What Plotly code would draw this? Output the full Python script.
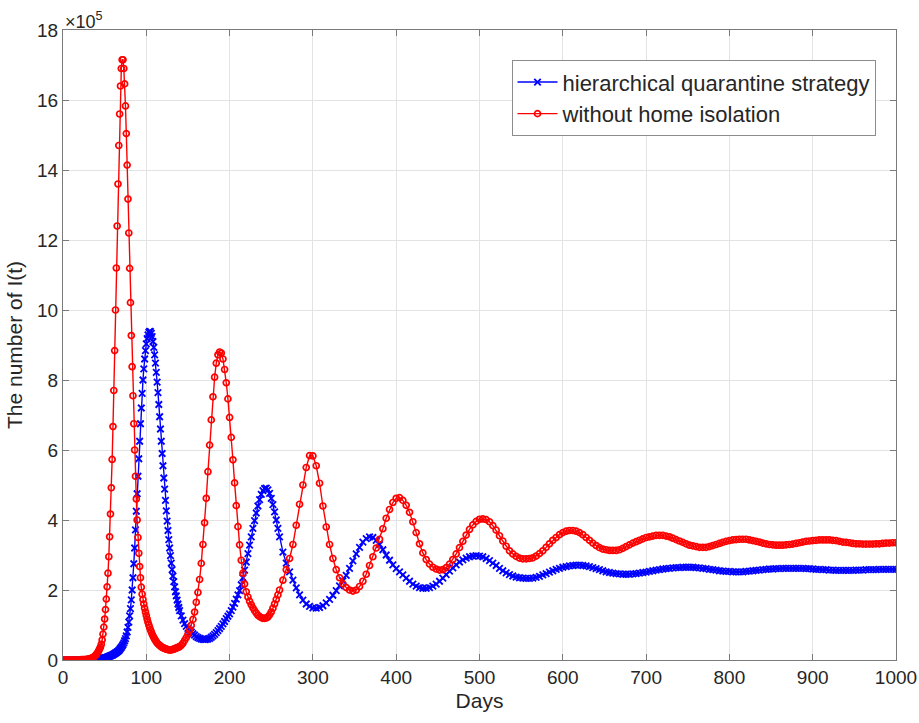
import plotly.graph_objects as go

# x grid (days) for both series: dense where the curves change fast
days = (list(range(0, 31, 2)) + list(range(31, 141)) +
        list(range(142, 261, 2)) + list(range(264, 1001, 4)))

# values in units of 1e5
red_a = [0, 0, 0, 0, 0, 0, 0, 0, 0, 0, 0, 0.01, 0.01, 0.01, 0.02, 0.02]
red_b = [0.03, 0.03, 0.04, 0.05, 0.06, 0.07, 0.09, 0.11, 0.13, 0.16,
         0.19, 0.23, 0.27, 0.32, 0.37, 0.45, 0.57, 0.74, 0.94, 1.17,
         1.44, 1.74, 2.09, 2.48, 2.95, 3.52, 4.17, 4.92, 5.73, 6.67,
         7.7, 8.84, 10.0, 11.2, 12.4, 13.6, 14.7, 15.6, 16.4, 16.9,
         17.15, 17.15, 16.9, 16.46, 15.83, 15.04, 14.14, 13.17, 12.2, 11.19,
         10.21, 9.27, 8.38, 7.55, 6.75, 6.0, 5.25, 4.6, 4.0, 3.5,
         3.05, 2.67, 2.35, 2.08, 1.88, 1.73, 1.6, 1.48, 1.37, 1.27,
         1.17, 1.08, 1.0, 0.93, 0.86, 0.8, 0.74, 0.69, 0.64, 0.6,
         0.56, 0.52, 0.49, 0.46, 0.44, 0.42, 0.4, 0.38, 0.36, 0.35,
         0.34, 0.33, 0.32, 0.31, 0.3, 0.3, 0.29, 0.29, 0.29, 0.29,
         0.3, 0.3, 0.31, 0.32, 0.33, 0.34, 0.35, 0.36, 0.37, 0.38]
red_c = [0.42, 0.48, 0.56, 0.64, 0.74, 0.85, 0.99, 1.16, 1.37, 1.65,
         1.93, 2.3, 2.76, 3.3, 3.92, 4.62, 5.38, 6.14, 6.86, 7.52,
         8.08, 8.48, 8.72, 8.8, 8.77, 8.6, 8.3, 7.92, 7.46, 6.93,
         6.36, 5.72, 5.06, 4.41, 3.81, 3.29, 2.85, 2.48, 2.17, 1.95,
         1.8, 1.68, 1.58, 1.49, 1.41, 1.34, 1.28, 1.24, 1.21, 1.19,
         1.19, 1.2, 1.23, 1.29, 1.37, 1.48, 1.6, 1.73, 1.86, 2.0]
red_d = [2.28, 2.58, 2.9, 3.3, 3.85, 4.45, 5.0, 5.5, 5.84, 5.83,
         5.55, 5.05, 4.4, 3.8, 3.3, 2.9, 2.58, 2.35, 2.18, 2.07,
         2.0, 1.97, 2.0, 2.1, 2.25, 2.45, 2.7, 2.95, 3.2, 3.45,
         3.75, 4.05, 4.3, 4.5, 4.62, 4.64, 4.56, 4.42, 4.22, 3.95,
         3.64, 3.32, 3.06, 2.87, 2.74, 2.65, 2.6, 2.57, 2.58, 2.64,
         2.74, 2.87, 3.03, 3.21, 3.39, 3.57, 3.73, 3.86, 3.96, 4.02,
         4.03, 4.01, 3.95, 3.84, 3.71, 3.55, 3.4, 3.25, 3.12, 3.03,
         2.96, 2.91, 2.89, 2.89, 2.9, 2.92, 2.97, 3.04, 3.12, 3.22,
         3.32, 3.42, 3.5, 3.58, 3.64, 3.68, 3.7, 3.7, 3.68, 3.64,
         3.58, 3.5, 3.42, 3.34, 3.27, 3.21, 3.17, 3.15, 3.13, 3.13,
         3.13, 3.15, 3.19, 3.24, 3.29, 3.34, 3.38, 3.42, 3.46, 3.5,
         3.52, 3.54, 3.56, 3.56, 3.56, 3.54, 3.52, 3.48, 3.44, 3.4,
         3.36, 3.32, 3.28, 3.26, 3.24, 3.22, 3.22, 3.22, 3.24, 3.27,
         3.3, 3.33, 3.36, 3.39, 3.41, 3.43, 3.44, 3.45, 3.45, 3.45,
         3.43, 3.41, 3.39, 3.37, 3.34, 3.32, 3.3, 3.29, 3.28, 3.28,
         3.28, 3.29, 3.3, 3.31, 3.33, 3.35, 3.37, 3.39, 3.4, 3.41,
         3.42, 3.43, 3.43, 3.43, 3.43, 3.42, 3.41, 3.39, 3.37, 3.36,
         3.35, 3.33, 3.32, 3.32, 3.31, 3.31, 3.31, 3.31, 3.32, 3.32,
         3.33, 3.34, 3.34, 3.35, 3.35]

blue_a = [0, 0, 0, 0, 0, 0, 0, 0, 0, 0, 0, 0, 0, 0, 0.01, 0.01]
blue_b = [0.01, 0.01, 0.01, 0.01, 0.01, 0.02, 0.02, 0.02, 0.02, 0.02,
          0.02, 0.03, 0.03, 0.03, 0.04, 0.04, 0.05, 0.05, 0.06, 0.06,
          0.07, 0.07, 0.08, 0.09, 0.1, 0.11, 0.12, 0.13, 0.14, 0.15,
          0.17, 0.18, 0.2, 0.21, 0.23, 0.25, 0.27, 0.3, 0.33, 0.36,
          0.4, 0.44, 0.49, 0.55, 0.61, 0.69, 0.8, 0.93, 1.08, 1.26,
          1.47, 1.72, 2.0, 2.35, 2.75, 3.2, 3.72, 4.25, 4.75, 5.25,
          5.75, 6.25, 6.75, 7.2, 7.62, 8.0, 8.32, 8.6, 8.84, 9.03,
          9.18, 9.29, 9.36, 9.39, 9.38, 9.33, 9.24, 9.1, 8.93, 8.72,
          8.48, 8.22, 7.94, 7.64, 7.3, 6.95, 6.6, 6.25, 5.9, 5.55,
          5.2, 4.88, 4.56, 4.26, 3.97, 3.7, 3.44, 3.2, 2.98, 2.77,
          2.58, 2.4, 2.24, 2.09, 1.95, 1.83, 1.71, 1.6, 1.5, 1.41]
blue_c = [1.26, 1.14, 1.04, 0.96, 0.9, 0.85, 0.8, 0.75, 0.71, 0.67,
          0.64, 0.62, 0.6, 0.59, 0.58, 0.59, 0.6, 0.62, 0.65, 0.69,
          0.73, 0.78, 0.84, 0.9, 0.96, 1.03, 1.1, 1.18, 1.25, 1.32,
          1.41, 1.51, 1.62, 1.74, 1.86, 1.98, 2.15, 2.35, 2.57, 2.8,
          3.04, 3.28, 3.52, 3.76, 3.98, 4.2, 4.4, 4.58, 4.73, 4.84,
          4.9, 4.91, 4.86, 4.76, 4.62, 4.44, 4.23, 4.0, 3.76, 3.52]
blue_d = [3.08, 2.77, 2.52, 2.28, 2.06, 1.86, 1.71, 1.6, 1.53, 1.49,
          1.48, 1.5, 1.55, 1.63, 1.73, 1.85, 1.98, 2.12, 2.26, 2.42,
          2.62, 2.83, 3.03, 3.22, 3.37, 3.47, 3.52, 3.5, 3.42, 3.3,
          3.15, 3.0, 2.85, 2.72, 2.61, 2.52, 2.43, 2.34, 2.25, 2.17,
          2.11, 2.07, 2.05, 2.05, 2.07, 2.11, 2.17, 2.25, 2.34, 2.44,
          2.54, 2.63, 2.72, 2.8, 2.86, 2.91, 2.95, 2.97, 2.98, 2.97,
          2.95, 2.9, 2.84, 2.77, 2.7, 2.62, 2.55, 2.49, 2.44, 2.4,
          2.37, 2.35, 2.34, 2.33, 2.33, 2.34, 2.36, 2.39, 2.43, 2.47,
          2.51, 2.55, 2.59, 2.62, 2.65, 2.67, 2.69, 2.7, 2.71, 2.71,
          2.7, 2.69, 2.67, 2.64, 2.61, 2.58, 2.55, 2.52, 2.5, 2.48,
          2.47, 2.46, 2.45, 2.45, 2.45, 2.46, 2.47, 2.48, 2.5, 2.51,
          2.53, 2.55, 2.57, 2.58, 2.6, 2.61, 2.62, 2.63, 2.64, 2.64,
          2.65, 2.65, 2.65, 2.65, 2.64, 2.63, 2.62, 2.61, 2.59, 2.58,
          2.57, 2.55, 2.54, 2.53, 2.53, 2.52, 2.52, 2.52, 2.52, 2.53,
          2.54, 2.55, 2.56, 2.57, 2.58, 2.59, 2.6, 2.6, 2.61, 2.61,
          2.62, 2.62, 2.62, 2.62, 2.62, 2.62, 2.62, 2.61, 2.61, 2.6,
          2.59, 2.59, 2.58, 2.58, 2.57, 2.57, 2.56, 2.56, 2.56, 2.56,
          2.56, 2.56, 2.57, 2.57, 2.57, 2.58, 2.58, 2.58, 2.58, 2.59,
          2.59, 2.59, 2.59, 2.59, 2.59]

red_vals = red_a + red_b + red_c + red_d
blue_vals = blue_a + blue_b + blue_c + blue_d
assert len(red_vals) == len(days), (len(red_vals), len(days))
assert len(blue_vals) == len(days), (len(blue_vals), len(days))

series_names = ["hierarchical quarantine strategy", "without home isolation"]
x_ticks = list(range(0, 1001, 100))
y_ticks = list(range(0, 19, 2))

txt = "#262626"
font_family = "Liberation Sans, Arial, sans-serif"

fig = go.Figure()
fig.add_trace(go.Scatter(
    x=days, y=blue_vals, mode="lines+markers", name=series_names[0],
    line=dict(color="#0000ff", width=1.4),
    marker=dict(symbol="x-thin", size=6.5, color="#0000ff",
                line=dict(color="#0000ff", width=1.8)),
))
fig.add_trace(go.Scatter(
    x=days, y=red_vals, mode="lines+markers", name=series_names[1],
    line=dict(color="#ff0000", width=1.4),
    marker=dict(symbol="circle-open", size=6, color="#ff0000",
                line=dict(color="#ff0000", width=1.7)),
))

axis_common = dict(
    showline=True, linecolor="#7a7a7a", linewidth=1, mirror="ticks",
    ticks="inside", ticklen=6, tickcolor="#7a7a7a",
    showgrid=True, gridcolor="#e3e3e3", gridwidth=1, zeroline=False,
    automargin=False,
    tickfont=dict(family=font_family, size=19, color=txt),
)

fig.update_layout(
    width=919, height=723,
    margin=dict(l=63, r=23, t=30, b=63),
    paper_bgcolor="white", plot_bgcolor="white",
    font=dict(family=font_family, color=txt),
    xaxis=dict(range=[0, 1000], tickvals=x_ticks,
               title=dict(text="Days", font=dict(family=font_family, size=21, color=txt), standoff=6),
               **axis_common),
    yaxis=dict(range=[0, 18], tickvals=y_ticks,
               title=dict(text="The number of I(t)", font=dict(family=font_family, size=21, color=txt), standoff=8),
               **axis_common),
    legend=dict(x=0.9754, xanchor="right", y=0.952, yanchor="top",
                bgcolor="white", bordercolor="#8c8c8c", borderwidth=1,
                font=dict(family=font_family, size=22, color=txt),
                itemwidth=40, tracegroupgap=2),
    annotations=[dict(text="×10<sup>5</sup>", x=0, y=1, xref="paper", yref="paper",
                      xanchor="left", yanchor="bottom", showarrow=False, yshift=-4,
                      font=dict(family=font_family, size=18, color=txt))],
)

fig.write_html("out.html")
